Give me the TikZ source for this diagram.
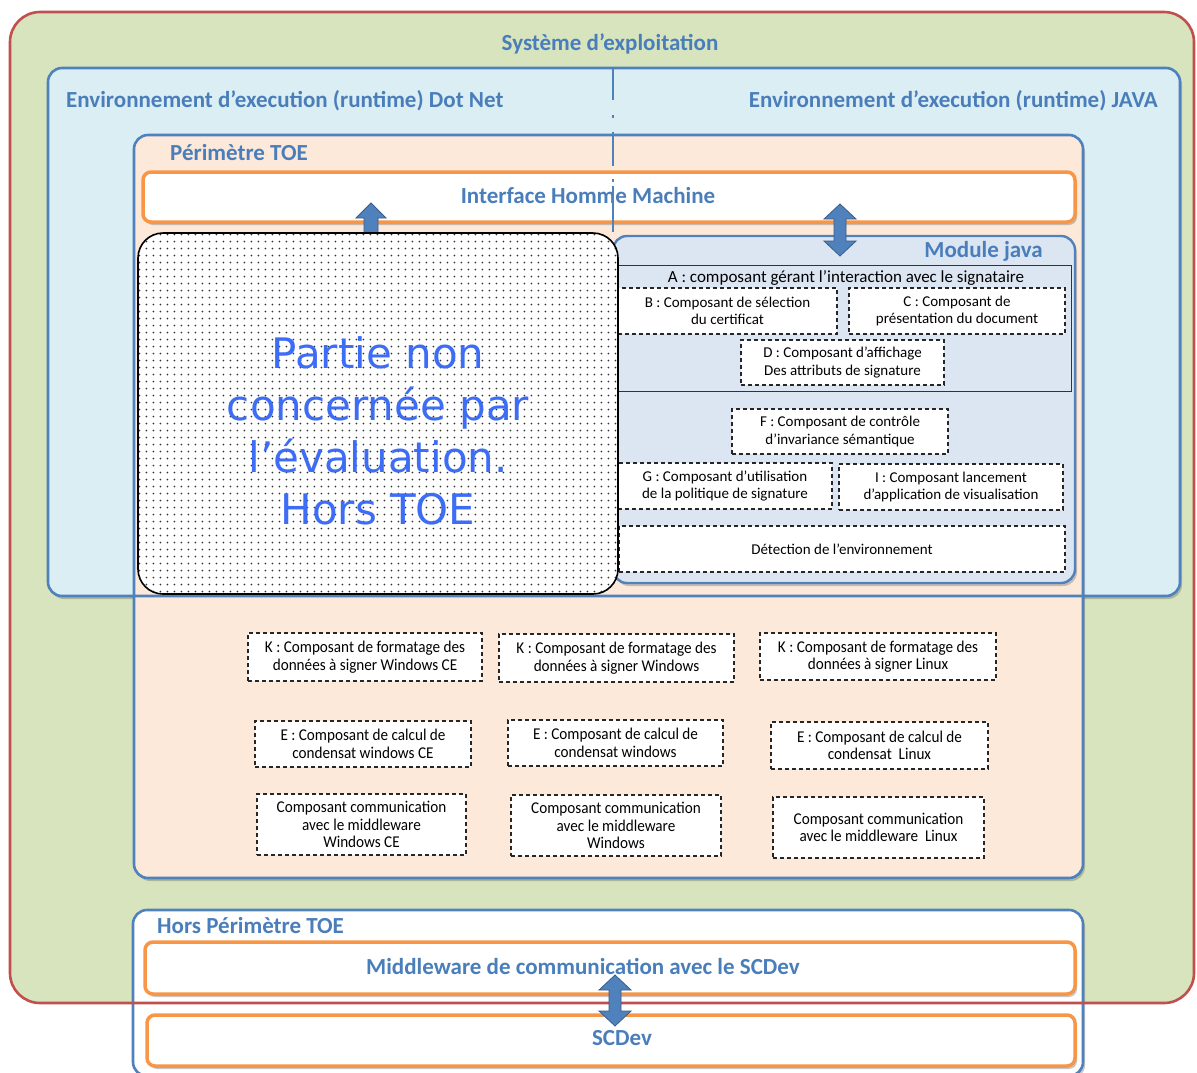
\documentclass[tikz,border=0pt]{standalone}
\usepackage{fontspec}
\setmainfont{Carlito}
\newfontfamily\dvs{DejaVu Sans}
\newfontfamily\cond[FakeStretch=0.92]{Carlito}
\usetikzlibrary{shadows,patterns.meta,calc}
\definecolor{osgreen}{HTML}{D7E4BD}
\definecolor{osred}{HTML}{C0504D}
\definecolor{rtblue}{HTML}{DBEEF4}
\definecolor{bord}{HTML}{4F81BD}
\definecolor{peach}{HTML}{FDE9D9}
\definecolor{modfill}{HTML}{DCE6F2}
\definecolor{orng}{HTML}{F79646}
\definecolor{ttl}{HTML}{4A7EBB}
\definecolor{partiec}{HTML}{3D6CF5}
\definecolor{arrowedge}{HTML}{385D8A}
\begin{document}
\begin{tikzpicture}[x=1pt,y=-1pt,
  dims/.style 2 args={minimum width=#1pt, minimum height=#2pt},
  base/.style={rectangle, inner sep=0pt, outer sep=0pt},
  shad/.style={drop shadow={shadow xshift=2pt, shadow yshift=-3pt, opacity=0.3, fill=black!70}},
  bluebox/.style={base, draw=bord, line width=2.6pt, rounded corners=14pt},
  orbox/.style={base, draw=orng, line width=3.5pt, fill=white, rounded corners=8pt, shad},
  ttlfont/.style={font=\bfseries\fontsize{23}{27}\selectfont, text=ttl, inner sep=0pt},
  comp/.style={base, draw=black!85, line width=1.2pt, dash pattern=on 4pt off 3pt, fill=white, align=center, font=\fontsize{15}{17.5}\selectfont},
  compb/.style={base, draw=black!85, line width=1.4pt, dash pattern=on 4pt off 3pt, fill=white, align=center, font=\cond\fontsize{16.5}{17.5}\selectfont},
  blockarrow/.style={fill=bord, draw=arrowedge, line width=0.8pt, line join=miter}
]
\useasboundingbox (0,0) rectangle (1197,1072);
\fill[white] (0,0) rectangle (1197,1072);

% Systeme d'exploitation (fill only, border redrawn at the end)
\node[base, rounded corners=30pt, fill=osgreen, dims={1184}{991}] (os) at (602,507.5) {};
\node[ttlfont] (ostitle) at (610,44) {Système d’exploitation};

% runtime box
\node[base, rounded corners=14pt, fill=rtblue, shad, dims={1132}{528}] (rt) at (614,332) {};
\node[ttlfont, anchor=west] (dotnet) at (66,101) {Environnement d’execution (runtime) Dot Net};
\node[ttlfont, anchor=east] (java) at (1158,101) {Environnement d’execution (runtime) JAVA};

% TOE perimeter
\node[bluebox, fill=peach, shad, dims={949}{743}] (toe) at (608.5,506.5) {};
\draw[bord, line width=2.6pt, rounded corners=14pt] (rt.north west) rectangle (rt.south east);
\node[ttlfont, anchor=west] (toelbl) at (170,153) {Périmètre TOE};

% IHM
\node[orbox, dims={932}{50}] (ihm) at (609,197) {};
\node[ttlfont] (ihmtxt) at (588,196) {Interface Homme Machine};

% divider
\coordinate (dtop) at (613,68);
\coordinate (dbot) at (613,232);
\draw[bord, line width=2pt, dash pattern=on 32pt off 15pt on 3pt off 14pt on 34pt off 13pt on 3pt off 4pt on 60pt] (dtop) -- (dbot);

% up arrow from hors-TOE part to IHM
\coordinate (a1t) at (371,203);
\coordinate (a1b) at (371,240);
\draw[blockarrow] ($(a1b)+(-7,0)$) -- ($(a1t)+(-7,15)$) -- ($(a1t)+(-15,15)$) -- (a1t) -- ($(a1t)+(15,15)$) -- ($(a1t)+(7,15)$) -- ($(a1b)+(7,0)$) -- cycle;

% Module java
\node[bluebox, line width=2.4pt, fill=modfill, shad, dims={462}{347}] (mod) at (844,409.5) {};
\node[ttlfont, anchor=east] (modlbl) at (1043,251) {Module java};
\node[base, draw=black!80, line width=1pt, dims={454}{126}] (abox) at (844,328) {};
\node[inner sep=0pt, font=\fontsize{17}{20}\selectfont] (atxt) at (846,278) {A : composant gérant l’interaction avec le signataire};
\node[comp, dims={219}{46}] (B) at (727.5,311) {B : Composant de sélection\\du certificat};
\node[comp, dims={216}{46}] (C) at (957,311) {C : Composant de\\présentation du document};
\node[comp, dims={203}{45}] (D) at (842.5,362.5) {D : Composant d’affichage\\Des attributs de signature};
\node[comp, dims={216}{45}] (F) at (840,431.5) {F : Composant de contrôle\\d’invariance sémantique};
\node[comp, dims={214}{46}] (G) at (725,486) {G : Composant d’utilisation\\de la politique de signature};
\node[comp, dims={224}{46}] (I) at (951,487) {I : Composant lancement\\d’application de visualisation};
\node[comp, dims={446}{46}] (det) at (842,549) {Détection de l’environnement};

% Partie non concernee
\node[base, rounded corners=25pt, draw=black, line width=1.6pt, preaction={fill=white},
      pattern={Dots[distance=7.4pt, radius=1.05pt]}, pattern color=black!80, dims={480}{361}] (partie) at (378,413.5) {};
\node[inner sep=0pt, align=center, text=partiec, font=\dvs\fontsize{42}{52}\selectfont] (partietxt) at (378,431) {Partie non\\concernée par\\l’évaluation.\\Hors TOE};

% double arrow IHM <-> Module java
\coordinate (a2t) at (840,204);
\coordinate (a2b) at (840,256);
\draw[blockarrow] (a2t) -- ($(a2t)+(16,15)$) -- ($(a2t)+(6,15)$) -- ($(a2b)+(6,-15)$) -- ($(a2b)+(16,-15)$) -- (a2b) -- ($(a2b)+(-16,-15)$) -- ($(a2b)+(-6,-15)$) -- ($(a2t)+(-6,15)$) -- ($(a2t)+(-16,15)$) -- cycle;

% platform components
\node[compb, dims={234}{48}] (K1) at (365,657) {K : Composant de formatage des\\données à signer Windows CE};
\node[compb, dims={235}{48}] (K2) at (616.5,658) {K : Composant de formatage des\\données à signer Windows};
\node[compb, dims={236}{47}] (K3) at (878,656.5) {K : Composant de formatage des\\données à signer Linux};
\node[compb, dims={216}{46}] (E1) at (363,744) {E : Composant de calcul de\\condensat windows CE};
\node[compb, dims={215}{46}] (E2) at (615.5,743) {E : Composant de calcul de\\condensat windows};
\node[compb, dims={217}{47}] (E3) at (879.5,745.5) {E : Composant de calcul de\\condensat\ \ Linux};
\node[compb, dims={209}{61}] (C1) at (361.5,824.5) {Composant communication\\avec le middleware\\Windows CE};
\node[compb, dims={210}{61}] (C2) at (616,825.5) {Composant communication\\avec le middleware\\Windows};
\node[compb, dims={211}{61}] (C3) at (878.5,827.5) {Composant communication\\avec le middleware\ \ Linux};

% Hors perimetre TOE
\node[bluebox, fill=white, shad, dims={950}{166}] (hors) at (608,993) {};
\node[ttlfont, anchor=west] (horslbl) at (157,925) {Hors Périmètre TOE};
\node[orbox, dims={930}{52}] (mw) at (610,968) {};
\node[ttlfont] (mwtxt) at (583,966) {Middleware de communication avec le SCDev};
\node[orbox, dims={928}{51}] (scdev) at (611,1040.5) {};
\node[ttlfont] (scdevtxt) at (622,1038) {SCDev};

% OS border on top
\draw[osred, line width=2.6pt, rounded corners=30pt] (os.north west) rectangle (os.south east);

% double arrow middleware <-> SCDev
\coordinate (a3t) at (615,975);
\coordinate (a3b) at (615,1026);
\draw[blockarrow] (a3t) -- ($(a3t)+(16,15)$) -- ($(a3t)+(6,15)$) -- ($(a3b)+(6,-15)$) -- ($(a3b)+(16,-15)$) -- (a3b) -- ($(a3b)+(-16,-15)$) -- ($(a3b)+(-6,-15)$) -- ($(a3t)+(-6,15)$) -- ($(a3t)+(-16,15)$) -- cycle;
\end{tikzpicture}
\end{document}
